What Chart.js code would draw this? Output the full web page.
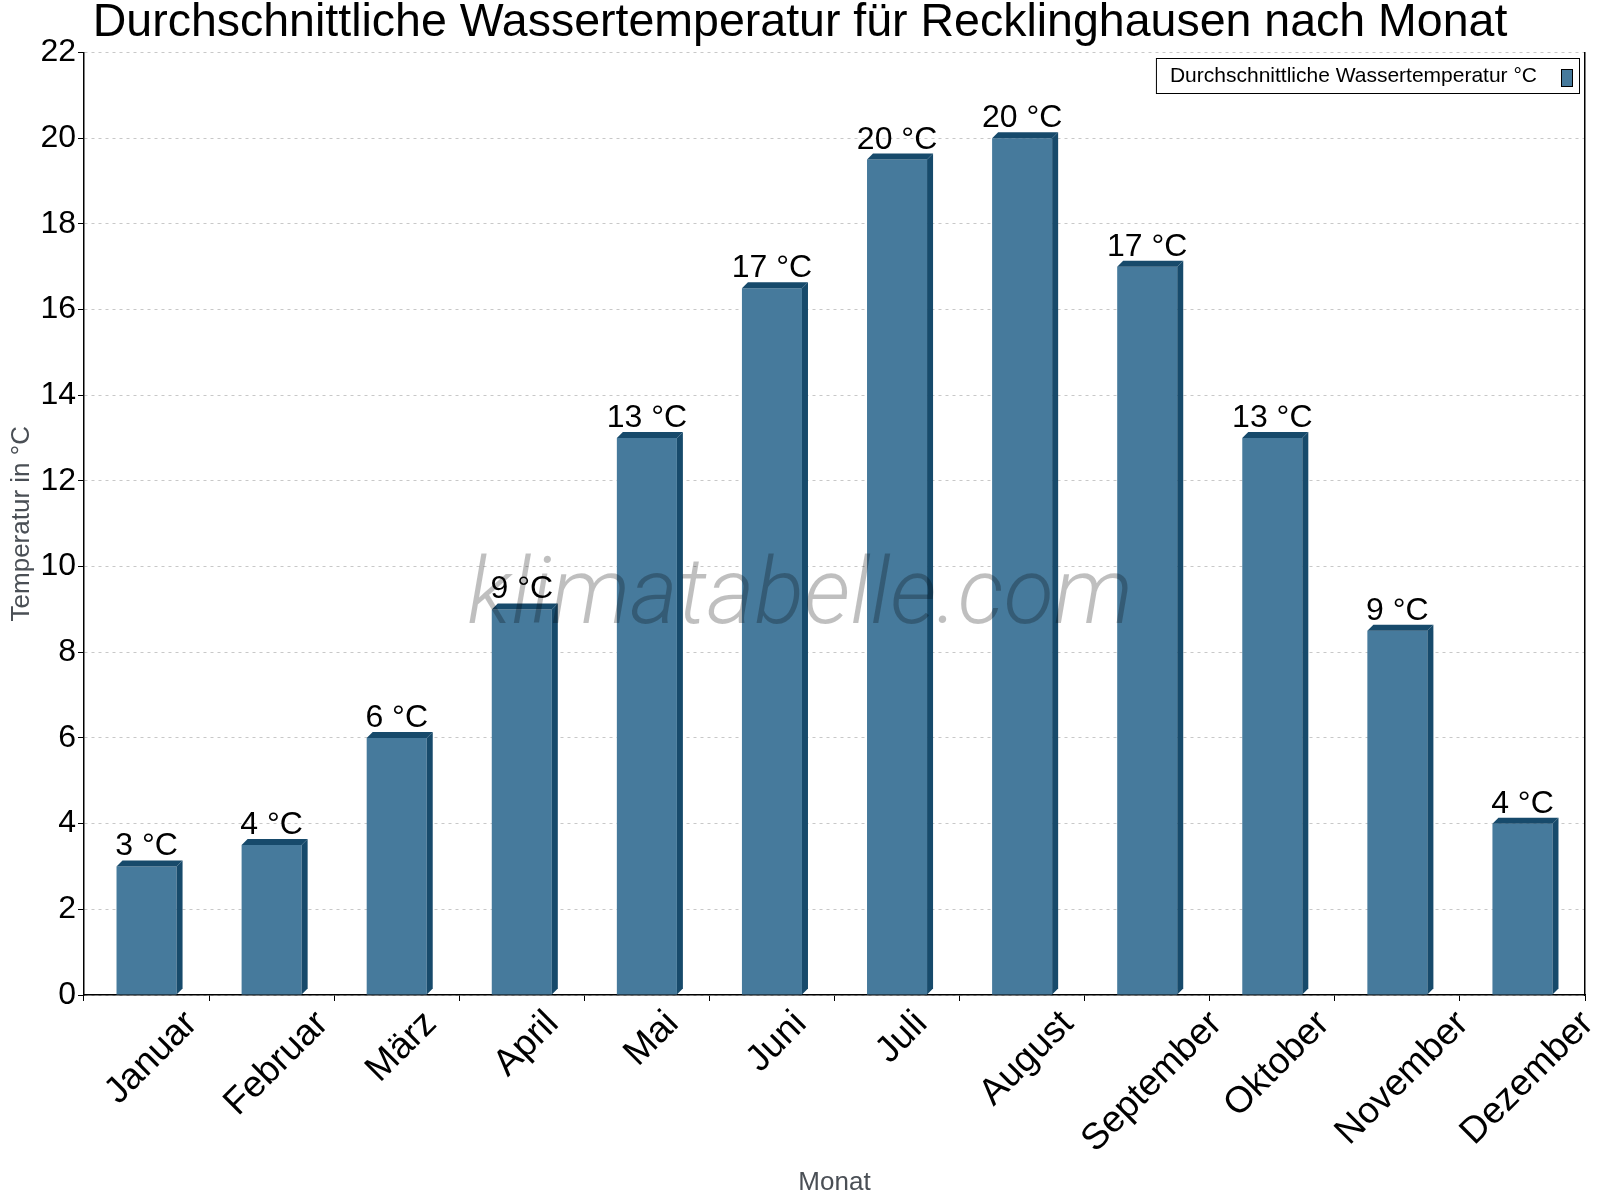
<!DOCTYPE html>
<html>
<head>
<meta charset="utf-8">
<title>Wassertemperatur Recklinghausen</title>
<script src="https://cdn.jsdelivr.net/npm/chart.js@4/dist/chart.umd.min.js"></script>
<style>
    html, body { margin: 0; padding: 0; background: #fff; }
    #wrap { width: 1600px; height: 1200px; }
</style>
</head>
<body>
<div id="wrap"><canvas id="chart-1"></canvas></div>
<script>
// Daten
const months = ['Januar', 'Februar', 'März', 'April', 'Mai', 'Juni', 'Juli', 'August', 'September', 'Oktober', 'November', 'Dezember'];
const waterTemp = [3, 3.5, 6, 9, 13, 16.5, 19.5, 20, 17, 13, 8.5, 4];
const tempLabels = ['3 °C', '4 °C', '6 °C', '9 °C', '13 °C', '17 °C', '20 °C', '20 °C', '17 °C', '13 °C', '9 °C', '4 °C'];
const yTicks = [0, 2, 4, 6, 8, 10, 12, 14, 16, 18, 20, 22];

const FRONT = 'rgb(70, 122, 156)';
const DARK = 'rgb(23, 74, 107)';
const DEPTH = 6;
const FONT = '"Liberation Sans", Arial, sans-serif';

// 3D-Kanten, Beschriftungen, Legende, Wasserzeichen
const extras = {
    id: 'extras',
    afterDatasetsDraw(chart) {
        const ctx = chart.ctx;
        const area = chart.chartArea;
        const meta = chart.getDatasetMeta(0);
        ctx.save();
        meta.data.forEach(function(bar, i) {
            const l = bar.x - bar.width / 2;
            const r = bar.x + bar.width / 2;
            const t = bar.y;
            const b = bar.base;
            ctx.fillStyle = DARK;
            // Oberseite
            ctx.beginPath();
            ctx.moveTo(l, t);
            ctx.lineTo(l + DEPTH, t - DEPTH);
            ctx.lineTo(r + DEPTH, t - DEPTH);
            ctx.lineTo(r, t);
            ctx.closePath();
            ctx.fill();
            // Seite
            ctx.beginPath();
            ctx.moveTo(r, t);
            ctx.lineTo(r + DEPTH, t - DEPTH);
            ctx.lineTo(r + DEPTH, b - DEPTH);
            ctx.lineTo(r, b);
            ctx.closePath();
            ctx.fill();

            ctx.fillStyle = '#000';
            ctx.font = '32px ' + FONT;
            ctx.textAlign = 'center';
            ctx.textBaseline = 'alphabetic';
            ctx.fillText(tempLabels[i], bar.x, t - DEPTH - 5);
        });

        // Wasserzeichen
        ctx.font = 'italic 300 92px Roboto, ' + FONT;
        ctx.fillStyle = 'rgba(0, 0, 0, 0.25)';
        ctx.textAlign = 'center';
        ctx.textBaseline = 'alphabetic';
        ctx.fillText('klimatabelle.com', 800, 623);

        // Monatsnamen, schräg (Ende oben rechts auf fester Höhe)
        const xs = chart.scales.x;
        ctx.fillStyle = '#000';
        ctx.font = '37px ' + FONT;
        ctx.textAlign = 'right';
        ctx.textBaseline = 'middle';
        months.forEach(function(m, i) {
            const px = xs.getPixelForTick(i);
            const half = ctx.measureText(m).width / 2 * Math.SQRT1_2;
            ctx.save();
            ctx.translate(px + 5 + half, area.bottom + 23);
            ctx.rotate(-Math.PI / 4);
            ctx.fillText(m, 0, 0);
            ctx.restore();
        });

        // Legende
        const label = chart.data.datasets[0].label;
        ctx.font = '21px ' + FONT;
        const tw = ctx.measureText(label).width;
        const by = 58, bh = 35;
        const bw = tw + 56;
        const bx = area.right - 6 - bw;
        ctx.fillStyle = '#fff';
        ctx.fillRect(bx, by, bw, bh);
        ctx.strokeStyle = '#000';
        ctx.lineWidth = 1;
        ctx.strokeRect(bx + 0.5, by + 0.5, bw, bh);
        ctx.fillStyle = '#000';
        ctx.textAlign = 'left';
        ctx.textBaseline = 'middle';
        ctx.fillText(label, bx + 14, by + bh / 2 + 1);
        const sx = bx + bw - 18;
        ctx.fillStyle = FRONT;
        ctx.fillRect(sx, by + 11, 11, 17);
        ctx.strokeStyle = '#000';
        ctx.strokeRect(sx + 0.5, by + 11.5, 11, 17);
        ctx.restore();
    }
};

const chart1 = new Chart(document.getElementById('chart-1'), {
    type: 'bar',
    data: {
        labels: months,
        datasets: [{
            label: 'Durchschnittliche Wassertemperatur °C',
            data: waterTemp,
            backgroundColor: FRONT,
            borderWidth: 0,
            barPercentage: 0.6,
            categoryPercentage: 0.8
        }]
    },
    options: {
        responsive: true,
        maintainAspectRatio: false,
        animation: false,
        layout: { padding: 0 },
        plugins: {
            legend: { display: false },
            tooltip: { enabled: false },
            title: {
                display: true,
                text: 'Durchschnittliche Wassertemperatur für Recklinghausen nach Monat',
                color: '#000',
                font: { family: FONT, size: 46.5, weight: 'normal', lineHeight: 1.0 },
                padding: { top: 0, bottom: 6 }
            }
        },
        scales: {
            x: {
                grid: { display: true, drawOnChartArea: false, offset: true, color: '#000', tickLength: 6 },
                border: { color: '#000', width: 1.5 },
                ticks: { display: false },
                title: {
                    display: true,
                    text: 'Monat',
                    color: '#4a4f55',
                    font: { family: FONT, size: 26 },
                    padding: { top: 0, bottom: 2 }
                },
                afterFit(scale) { scale.height = 205; }
            },
            y: {
                min: 0,
                max: 22,
                afterBuildTicks(scale) { scale.ticks = yTicks.map(v => ({ value: v })); },
                grid: {
                    color: '#c8c8c8',
                    tickColor: '#000',
                    tickLength: 6,
                    tickBorderDash: [0, 0]
                },
                border: { color: '#000', width: 1.5, dash: [3, 4] },
                ticks: {
                    color: '#000',
                    font: { family: FONT, size: 32 },
                    padding: 2
                },
                title: {
                    display: true,
                    text: 'Temperatur in °C',
                    color: '#4a4f55',
                    font: { family: FONT, size: 26 },
                    padding: { top: 6, bottom: 0 }
                },
                afterFit(scale) { scale.width = 84; }
            },
            // rechte Rahmenlinie
            yRight: {
                position: 'right',
                min: 0,
                max: 22,
                grid: { drawOnChartArea: false, drawTicks: false },
                border: { color: '#000', width: 1.5 },
                ticks: { display: false },
                afterFit(scale) { scale.width = 15; }
            }
        }
    },
    plugins: [extras]
});
</script>
</body>
</html>
